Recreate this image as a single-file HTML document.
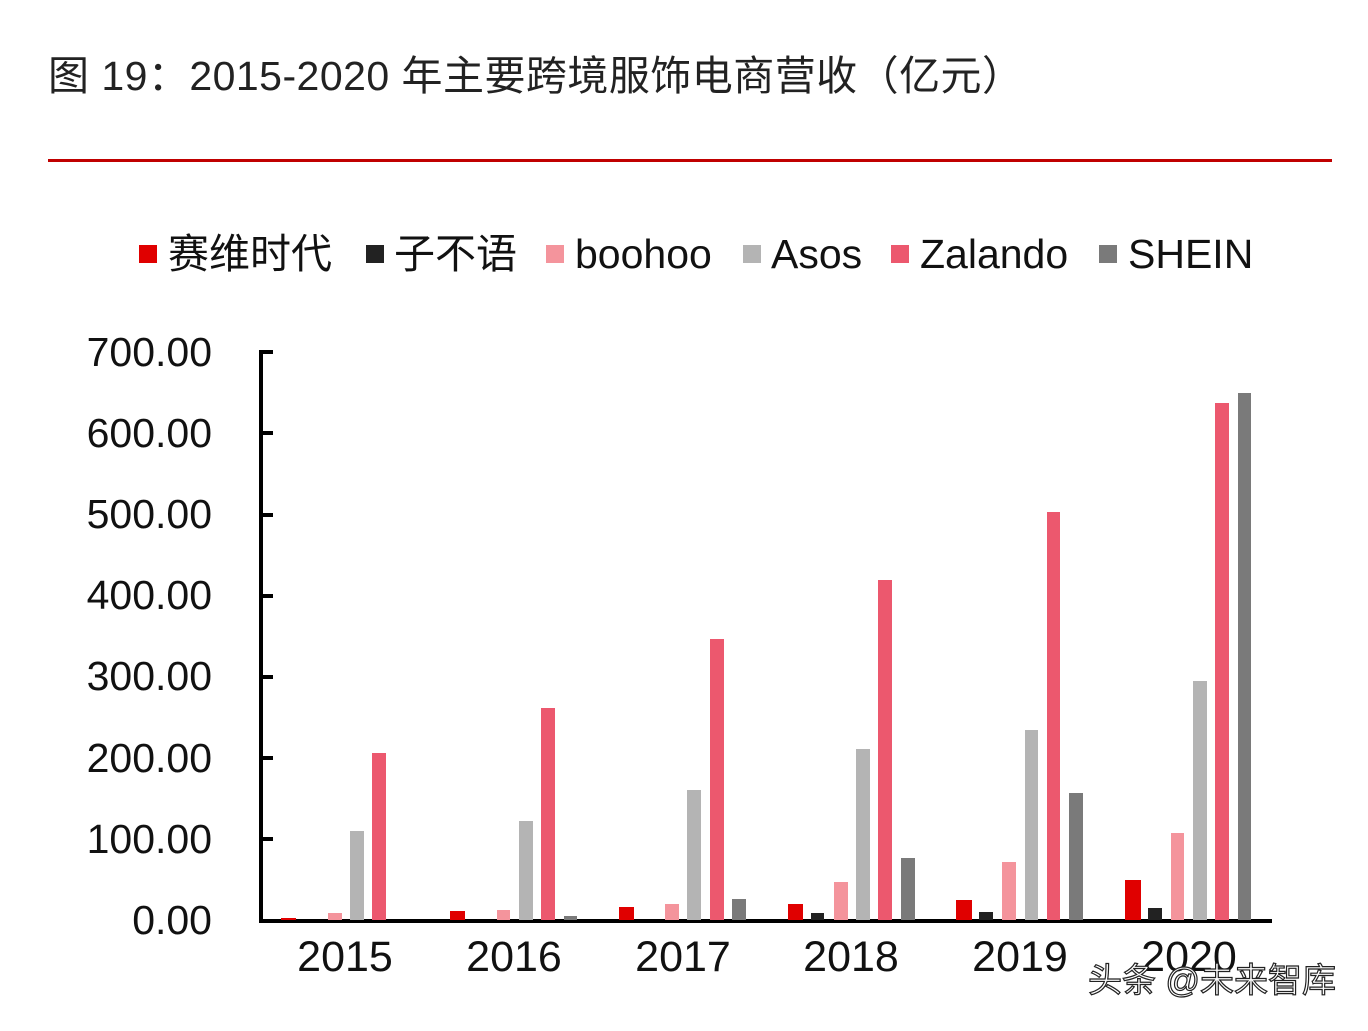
<!DOCTYPE html>
<html><head><meta charset="utf-8"><style>
body{margin:0;background:#fff;}
svg text{font-family:"Liberation Sans","Noto Sans CJK SC",sans-serif;}
</style></head><body>
<svg width="1368" height="1026" viewBox="0 0 1368 1026" xmlns="http://www.w3.org/2000/svg">
<rect width="1368" height="1026" fill="#fff"/>
<text x="48" y="90" font-size="41" fill="#222" textLength="975" lengthAdjust="spacing">图 19：2015-2020 年主要跨境服饰电商营收（亿元）</text>
<rect x="48" y="159" width="1284" height="3" fill="#c00000"/>
<g font-size="41" fill="#111">
<rect x="139" y="245" width="18" height="18" fill="#e00000"/><text x="168" y="268">赛维时代</text>
<rect x="366" y="245" width="18" height="18" fill="#222"/><text x="394" y="268">子不语</text>
<rect x="546" y="245" width="18" height="18" fill="#f4949c"/><text x="575" y="268">boohoo</text>
<rect x="743" y="245" width="18" height="18" fill="#b4b4b4"/><text x="771" y="268">Asos</text>
<rect x="891" y="245" width="18" height="18" fill="#ec586e"/><text x="920" y="268">Zalando</text>
<rect x="1099" y="245" width="18" height="18" fill="#7a7a7a"/><text x="1128" y="268">SHEIN</text>
</g>
<g font-size="41" fill="#111" text-anchor="end">
<text x="212" y="366">700.00</text><text x="212" y="447">600.00</text><text x="212" y="528">500.00</text>
<text x="212" y="609">400.00</text><text x="212" y="690">300.00</text><text x="212" y="772">200.00</text>
<text x="212" y="853">100.00</text><text x="212" y="934">0.00</text>
</g>
<g fill="#000">
<rect x="259" y="350" width="4" height="572"/>
<rect x="259" y="919" width="1013" height="4"/>
<rect x="259" y="350" width="14" height="4"/><rect x="259" y="431" width="14" height="4"/>
<rect x="259" y="513" width="14" height="4"/><rect x="259" y="594" width="14" height="4"/>
<rect x="259" y="675" width="14" height="4"/><rect x="259" y="756" width="14" height="4"/>
<rect x="259" y="837" width="14" height="4"/>
</g>
<g>
<rect x="281" y="918" width="15" height="2" fill="#e00000"/>
<rect x="328" y="913" width="14" height="7" fill="#f4949c"/>
<rect x="350" y="831" width="14" height="89" fill="#b4b4b4"/>
<rect x="372" y="753" width="14" height="167" fill="#ec586e"/>
<rect x="450" y="911" width="15" height="9" fill="#e00000"/>
<rect x="497" y="910" width="13" height="10" fill="#f4949c"/>
<rect x="519" y="821" width="14" height="99" fill="#b4b4b4"/>
<rect x="541" y="708" width="14" height="212" fill="#ec586e"/>
<rect x="564" y="916" width="13" height="4" fill="#7a7a7a"/>
<rect x="619" y="907" width="15" height="13" fill="#e00000"/>
<rect x="665" y="904" width="14" height="16" fill="#f4949c"/>
<rect x="687" y="790" width="14" height="130" fill="#b4b4b4"/>
<rect x="710" y="639" width="14" height="281" fill="#ec586e"/>
<rect x="732" y="899" width="14" height="21" fill="#7a7a7a"/>
<rect x="788" y="904" width="15" height="16" fill="#e00000"/>
<rect x="811" y="913" width="13" height="7" fill="#222"/>
<rect x="834" y="882" width="14" height="38" fill="#f4949c"/>
<rect x="856" y="749" width="14" height="171" fill="#b4b4b4"/>
<rect x="878" y="580" width="14" height="340" fill="#ec586e"/>
<rect x="901" y="858" width="14" height="62" fill="#7a7a7a"/>
<rect x="956" y="900" width="16" height="20" fill="#e00000"/>
<rect x="979" y="912" width="14" height="8" fill="#222"/>
<rect x="1002" y="862" width="14" height="58" fill="#f4949c"/>
<rect x="1025" y="730" width="13" height="190" fill="#b4b4b4"/>
<rect x="1047" y="512" width="13" height="408" fill="#ec586e"/>
<rect x="1069" y="793" width="14" height="127" fill="#7a7a7a"/>
<rect x="1125" y="880" width="16" height="40" fill="#e00000"/>
<rect x="1148" y="908" width="14" height="12" fill="#222"/>
<rect x="1171" y="833" width="13" height="87" fill="#f4949c"/>
<rect x="1193" y="681" width="14" height="239" fill="#b4b4b4"/>
<rect x="1215" y="403" width="14" height="517" fill="#ec586e"/>
<rect x="1238" y="393" width="13" height="527" fill="#7a7a7a"/>
</g>
<g font-size="43" fill="#111" text-anchor="middle">
<text x="345" y="971">2015</text><text x="514" y="971">2016</text><text x="683" y="971">2017</text>
<text x="851" y="971">2018</text><text x="1020" y="971">2019</text><text x="1189" y="971">2020</text>
</g>
<text x="1088" y="992" font-size="34" fill="#fff" stroke="#222" stroke-width="1.2">头条 @未来智库</text>
</svg>
</body></html>
